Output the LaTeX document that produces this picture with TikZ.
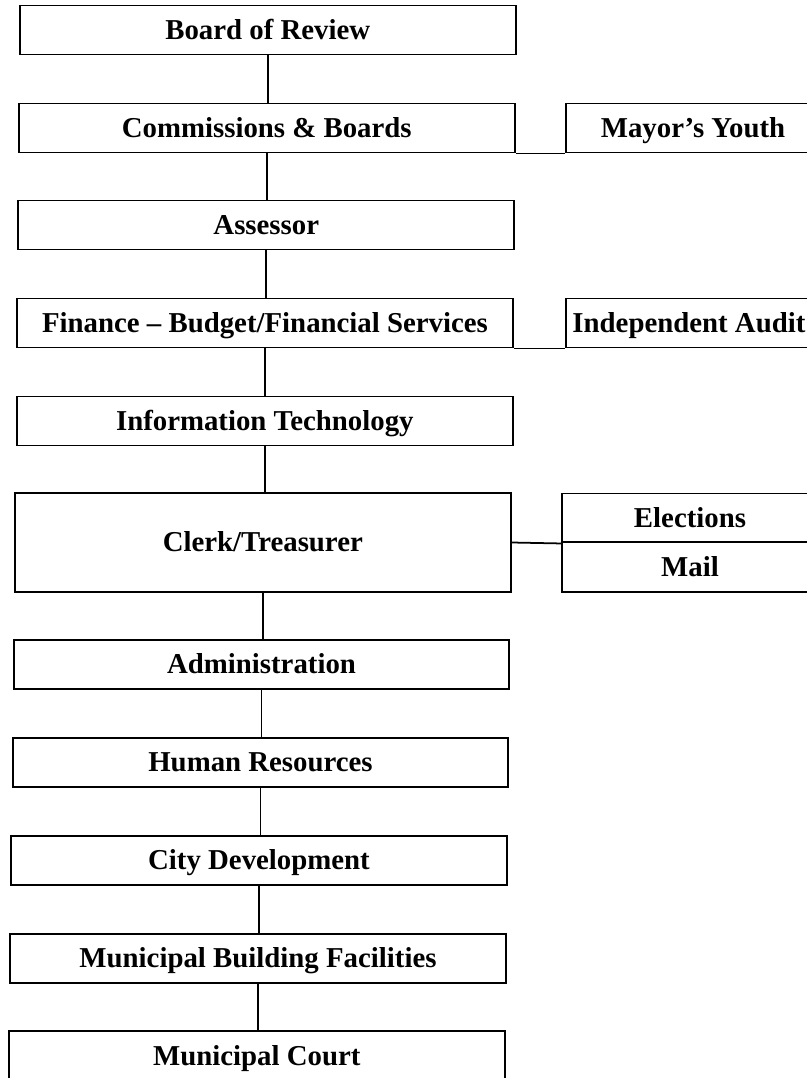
\documentclass[tikz,border=0pt]{standalone}
\usepackage{fontspec}
\setmainfont{Liberation Serif}
\usepackage{tikz}

\begin{document}
\begin{tikzpicture}[x=0.02cm,y=-0.02cm]
            \useasboundingbox (0,0) rectangle (807,1078);
            \begin{scope}[every node/.style={rectangle,draw,line width=1.1pt,inner sep=0pt,
                          minimum width=9.92cm,minimum height=0.98cm,
                          text height=10.8pt,text depth=0pt,
                          font=\fontsize{16.4}{18}\selectfont\bfseries}]
                \node (review) at (267.8,30) {Board of Review};
                \node (comm) at (266.8,128) {Commissions \& Boards};
                \node (assessor) at (266.3,225) {Assessor};
                \node (finance) at (265,323) {Finance -- Budget/Financial Services};
                \node (it) at (264.8,421) {Information Technology};
                \node[minimum height=1.98cm] (clerk) at (262.8,542.5) {Clerk/Treasurer};
                \node (admin) at (261.5,664.5) {Administration};
                \node (hr) at (260.5,762.5) {Human Resources};
                \node (citydev) at (259,860.5) {City Development};
                \node (facilities) at (258,958.5) {Municipal Building Facilities};
                \node (court) at (256.8,1055.5) {Municipal Court};
                % boxes on the right, cut by the page edge
                \node[minimum width=5.08cm] (youth) at (693,128) {Mayor's Youth};
                \node[minimum width=5.2cm] (audit) at (696,323) {\hspace*{-8pt}Independent Audit};
                \node[minimum width=5.12cm] (elections) at (690,518) {Elections};
                \node[minimum width=5.12cm,minimum height=1cm] (mail) at (690,567) {Mail};
            \end{scope}

            \begin{scope}[every edge/.style={draw=black,line width=1pt}]
                \path [-] (review.south) edge (review.south |- comm.north);
                \path [-] (comm.south) edge (comm.south |- assessor.north);
                \path [-] (assessor.south) edge (assessor.south |- finance.north);
                \path [-] (finance.south) edge (finance.south |- it.north);
                \path [-] (it.south) edge (it.south |- clerk.north);
                \path [-] (clerk.south) edge (clerk.south |- admin.north);
                \path [-] (admin.south) edge (admin.south |- hr.north);
                \path [-] (hr.south) edge (hr.south |- citydev.north);
                \path [-] (citydev.south) edge (citydev.south |- facilities.north);
                \path [-] (facilities.south) edge (facilities.south |- court.north);
                \path [-] (comm.south east) edge (youth.south west);
                \path [-] (finance.south east) edge (audit.south west);
                \path [-] (clerk.east) edge (elections.south west);
            \end{scope}
\end{tikzpicture}
\end{document}
